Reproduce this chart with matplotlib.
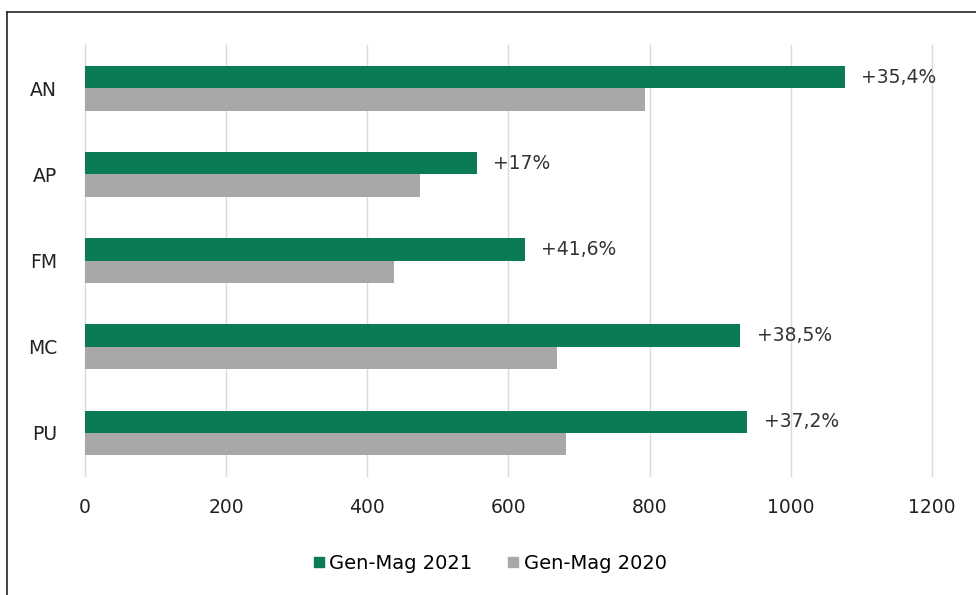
import numpy as np
import matplotlib.pyplot as plt
from matplotlib.lines import Line2D

# data
regions = ["AN", "AP", "FM", "MC", "PU"]
gen_mag_2021 = [1076, 555, 623, 928, 938]
gen_mag_2020 = [793, 474, 438, 669, 681]
growth = ["+35,4%", "+17%", "+41,6%", "+38,5%", "+37,2%"]

green = "#0b7a57"
grey = "#a8a8a8"

fig = plt.figure(figsize=(9.76, 5.95), dpi=100)
ax = fig.add_axes([0.087, 0.2, 0.868, 0.724])

y = np.arange(len(regions))
h = 0.26
ax.barh(y - h / 2, gen_mag_2021, height=h, color=green, label="Gen-Mag 2021", zorder=3)
ax.barh(y + h / 2, gen_mag_2020, height=h, color=grey, label="Gen-Mag 2020", zorder=3)

for i, txt in enumerate(growth):
    ax.annotate(txt, (gen_mag_2021[i], y[i] - h / 2), xytext=(12, 0),
                textcoords="offset points", va="center", ha="left",
                fontsize=13.5, color="#333333")

ax.set_xlim(0, 1200)
ax.set_ylim(len(regions) - 0.5, -0.5)
ax.set_yticks(y)
ax.set_yticklabels(regions)
ax.set_xticks(range(0, 1201, 200))
ax.tick_params(axis="both", length=0, labelsize=13.5, colors="#222222")
ax.tick_params(axis="x", pad=16)
ax.tick_params(axis="y", pad=20)
ax.grid(axis="x", color="#dadada", linewidth=1, zorder=0)
for gl in ax.get_xgridlines():
    gl.set_clip_on(False)
for s in ax.spines.values():
    s.set_visible(False)

handles = [Line2D([], [], marker="s", linestyle="", color=green, markersize=7),
           Line2D([], [], marker="s", linestyle="", color=grey, markersize=7)]
fig.legend(handles, ["Gen-Mag 2021", "Gen-Mag 2020"], loc="center",
           bbox_to_anchor=(0.5, 0.053), ncol=2, frameon=False, fontsize=14,
           handletextpad=0.05, columnspacing=1.6, handlelength=1.0)

# outer frame (top and left edges visible)
fig.add_artist(Line2D([7 / 976, 7 / 976], [0, 1 - 12 / 595], transform=fig.transFigure,
                      color="#222222", linewidth=1.2))
fig.add_artist(Line2D([7 / 976, 1], [1 - 12 / 595, 1 - 12 / 595], transform=fig.transFigure,
                      color="#222222", linewidth=1.2))

fig.savefig("out.png", dpi=100)
